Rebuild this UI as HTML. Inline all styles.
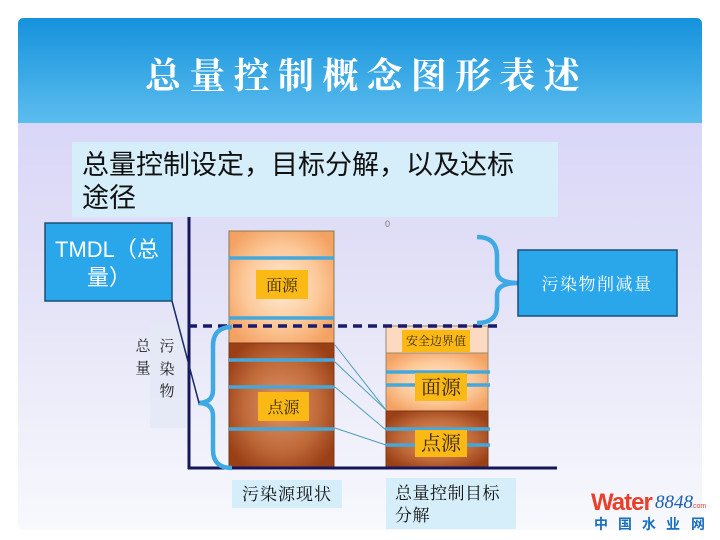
<!DOCTYPE html>
<html><head><meta charset="utf-8">
<style>
html,body{margin:0;padding:0;background:#fff;}
svg{display:block;}
.serif{font-family:"Liberation Serif","Noto Serif CJK SC",serif;}
.sans{font-family:"Liberation Sans","Noto Sans CJK SC",sans-serif;}
</style></head>
<body>
<svg width="720" height="540" viewBox="0 0 720 540" xmlns="http://www.w3.org/2000/svg">
<defs>
  <linearGradient id="hdr" x1="0" y1="0" x2="0" y2="1">
    <stop offset="0" stop-color="#1592dc"/>
    <stop offset="1" stop-color="#5cbdee"/>
  </linearGradient>
  <linearGradient id="body" x1="0" y1="0" x2="0" y2="1">
    <stop offset="0" stop-color="#d3cff8"/>
    <stop offset="0.5" stop-color="#e2e1f7"/>
    <stop offset="1" stop-color="#f8f9fd"/>
  </linearGradient>
  <radialGradient id="light" cx="0.5" cy="0.5" r="0.6">
    <stop offset="0" stop-color="#feecd8"/>
    <stop offset="0.6" stop-color="#fcc898"/>
    <stop offset="1" stop-color="#f4a263"/>
  </radialGradient>
  <radialGradient id="dark" cx="0.5" cy="0.5" r="0.6">
    <stop offset="0" stop-color="#e0946a"/>
    <stop offset="0.6" stop-color="#c06a3a"/>
    <stop offset="1" stop-color="#9a3f16"/>
  </radialGradient>
</defs>

<!-- slide -->
<rect x="18" y="18" width="684" height="512" rx="6" fill="url(#body)"/>
<path d="M18,123 V24 Q18,18 24,18 H696 Q702,18 702,24 V123 Z" fill="url(#hdr)"/>

<!-- title -->
<text class="serif" y="88" font-size="36" font-weight="bold" fill="#ffffff" x="145 189.3 233.6 277.9 322.2 366.5 410.8 455.1 499.4 543.7">总量控制概念图形表述</text>

<!-- axis y (behind subtitle) -->
<line x1="189" y1="200" x2="189" y2="469" stroke="#16165c" stroke-width="3"/>

<!-- subtitle box -->
<rect x="72" y="142" width="486" height="75" fill="#d5eef9"/>
<text class="sans" x="82" y="174" font-size="27" fill="#111">总量控制设定，目标分解，以及达标</text>
<text class="sans" x="82" y="207" font-size="27" fill="#111">途径</text>

<text class="sans" x="385" y="227" font-size="9" fill="#777">0</text>

<!-- TMDL box -->
<rect x="45" y="223" width="127" height="78" fill="#2aa6ea" stroke="#1d4f7a" stroke-width="1.5"/>
<text class="sans" x="55" y="257" font-size="22" fill="#fff">TMDL（总</text>
<text class="sans" x="87" y="285" font-size="22" fill="#fff">量）</text>

<!-- vertical label bg -->
<rect x="150" y="324" width="36" height="104" fill="#e4e8f4" opacity="0.85"/>
<g class="serif" font-size="15" fill="#222" text-anchor="middle">
  <text x="143" y="351">总</text>
  <text x="143" y="373">量</text>
  <text x="167" y="351">污</text>
  <text x="167" y="374">染</text>
  <text x="167" y="396">物</text>
</g>

<!-- bar 1 -->
<rect x="229" y="231" width="105" height="112" fill="url(#light)" stroke="#8a7a4e" stroke-width="1"/>
<rect x="229" y="343" width="105" height="125" fill="url(#dark)" stroke="#7a3a18" stroke-width="1"/>
<g stroke="#45a8dc" stroke-width="3.5">
  <line x1="229" y1="258" x2="334" y2="258"/>
  <line x1="229" y1="318" x2="334" y2="318"/>
  <line x1="229" y1="360" x2="334" y2="360"/>
  <line x1="229" y1="387" x2="334" y2="387"/>
  <line x1="229" y1="429" x2="334" y2="429"/>
</g>
<rect x="256" y="270" width="52" height="29" fill="#fbb915"/>
<text class="serif" x="282" y="291" font-size="16" fill="#3a2a10" text-anchor="middle">面源</text>
<rect x="258" y="392" width="51" height="29" fill="#fbb915"/>
<text class="serif" x="283.5" y="413" font-size="16" fill="#3a2a10" text-anchor="middle">点源</text>

<!-- bar 2 -->
<rect x="386" y="326" width="102" height="27" fill="#fcdac2" stroke="#9a8a6a" stroke-width="1"/>
<rect x="386" y="353" width="102" height="58" fill="url(#light)" stroke="#9a8a6a" stroke-width="1"/>
<rect x="386" y="411" width="102" height="57" fill="url(#dark)" stroke="#7a3a18" stroke-width="1"/>
<g stroke="#45a8dc" stroke-width="3.5">
  <line x1="386" y1="372" x2="490" y2="372"/>
  <line x1="386" y1="385" x2="490" y2="385"/>
  <line x1="386" y1="429" x2="490" y2="429"/>
  <line x1="386" y1="445" x2="490" y2="445"/>
</g>
<rect x="402" y="330" width="68" height="22" fill="#fbb915"/>
<text class="serif" x="436" y="345" font-size="12" fill="#3a2a10" text-anchor="middle">安全边界值</text>
<rect x="415" y="373" width="52" height="28" fill="#fbb915"/>
<text class="serif" x="441" y="394" font-size="20" fill="#3a2a10" text-anchor="middle">面源</text>
<rect x="415" y="430" width="52" height="27" fill="#fbb915"/>
<text class="serif" x="441" y="450" font-size="20" fill="#3a2a10" text-anchor="middle">点源</text>

<!-- connectors -->
<g stroke="#4d9fb8" stroke-width="1">
  <line x1="335" y1="345" x2="386" y2="410"/>
  <line x1="335" y1="362" x2="386" y2="410"/>
  <line x1="335" y1="387" x2="386" y2="430"/>
  <line x1="335" y1="428" x2="386" y2="445"/>
</g>

<!-- x axis -->
<line x1="188" y1="468" x2="557" y2="468" stroke="#16165c" stroke-width="3"/>

<!-- dashed line -->
<line x1="188" y1="326" x2="498" y2="326" stroke="#1b1b6b" stroke-width="3.5" stroke-dasharray="9,6"/>

<!-- left brace -->
<path d="M232,327 Q213,327 213,346 L213,390 Q213,403 198,403 Q213,403 213,416 L213,450 Q213,468 232,468" fill="none" stroke="#3ea9e2" stroke-width="4.5"/>
<!-- TMDL connector -->
<line x1="172" y1="301" x2="199" y2="403" stroke="#1a2a6a" stroke-width="1.5"/>

<!-- right brace -->
<path d="M477,237 Q497,237 497,256 L497,271 Q497,283 518,283 Q497,283 497,295 L497,306 Q497,323 477,323" fill="none" stroke="#3ea9e2" stroke-width="4.5"/>
<rect x="518" y="250" width="159" height="66" fill="#2aa6ea" stroke="#1d4f7a" stroke-width="1.5"/>
<text class="serif" x="597" y="290" font-size="17" fill="#fff" text-anchor="middle" letter-spacing="1.5">污染物削减量</text>

<!-- bottom labels -->
<rect x="232" y="480" width="110" height="28" fill="#d5eef9"/>
<text class="serif" x="287" y="500" font-size="17" fill="#111" text-anchor="middle" letter-spacing="1">污染源现状</text>
<rect x="386" y="478" width="130" height="51" fill="#d5eef9"/>
<text class="serif" x="395" y="499" font-size="17" fill="#111" letter-spacing="0.5">总量控制目标</text>
<text class="serif" x="395" y="521" font-size="17" fill="#111" letter-spacing="0.5">分解</text>

<!-- watermark -->
<text x="591" y="510" font-family="Liberation Sans, sans-serif" font-weight="bold" font-size="24" fill="#e8402a" letter-spacing="-1">Water</text>
<text x="655" y="508" font-family="Liberation Serif, serif" font-style="italic" font-size="19" fill="#1a5fb4">8848</text>
<text x="691" y="508" font-family="Liberation Sans, sans-serif" font-size="7" fill="#e8402a">.com</text>
<g font-family="Noto Sans CJK SC, sans-serif" font-weight="bold" font-size="14" fill="#1a6fc0" text-anchor="middle">
  <text x="601" y="529">中</text>
  <text x="625" y="529">国</text>
  <text x="649" y="529">水</text>
  <text x="673" y="529">业</text>
  <text x="698" y="529">网</text>
</g>
</svg>
</body></html>
